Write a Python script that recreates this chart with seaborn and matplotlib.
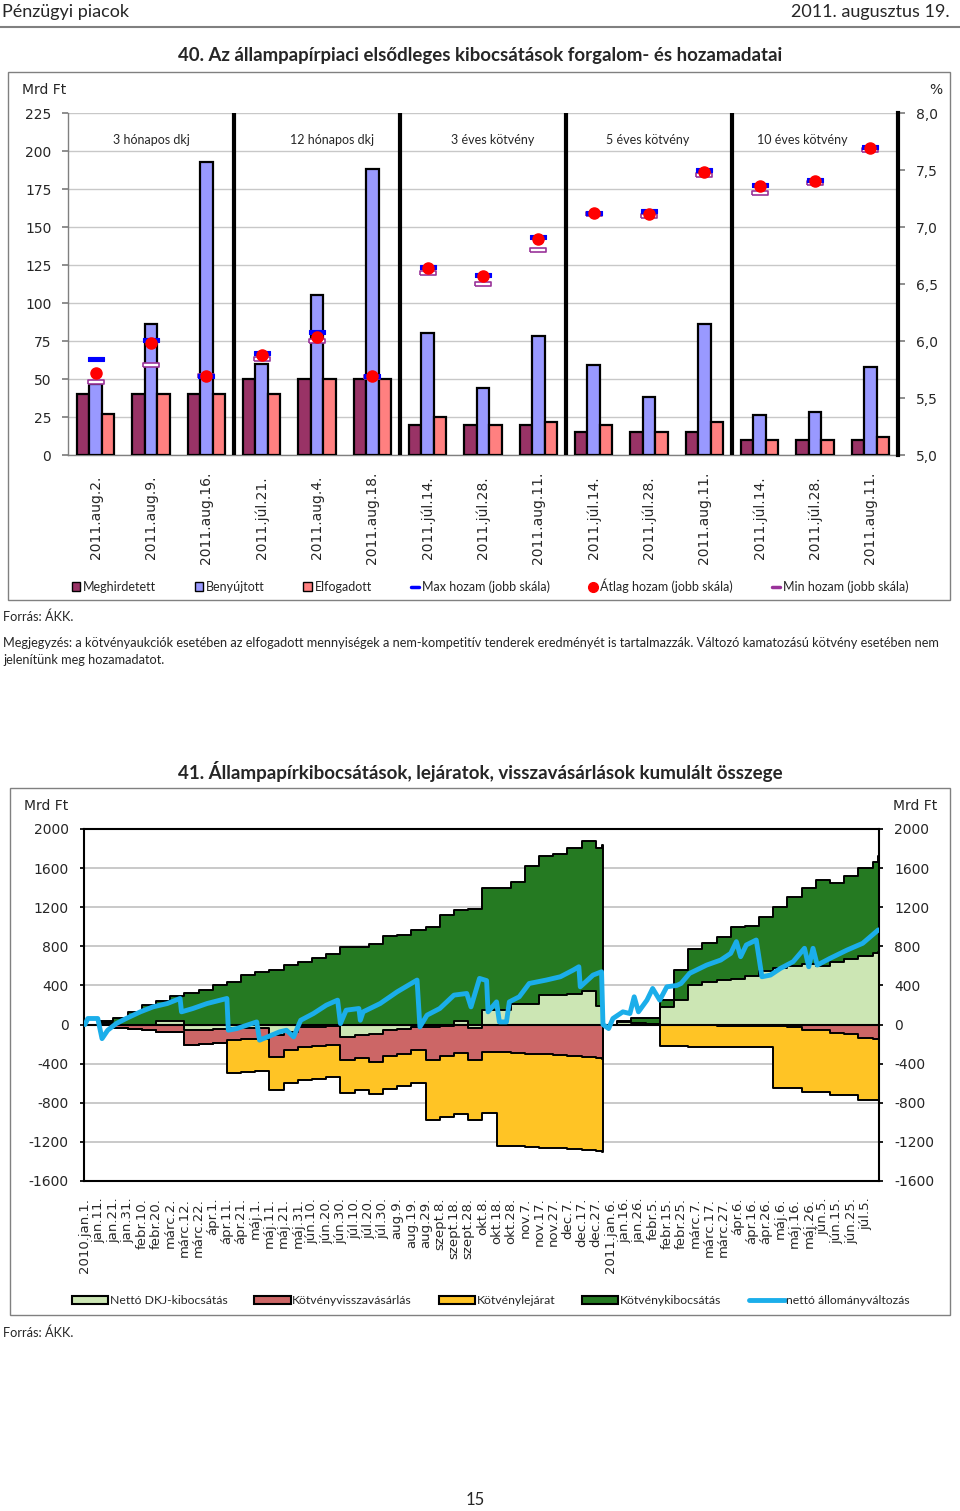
import numpy as np
import pandas as pd
import matplotlib
matplotlib.use('Agg')
import matplotlib.pyplot as plt
from matplotlib.patches import Rectangle, Patch
from matplotlib.lines import Line2D
import seaborn as sns

# --- 40. ábra: aukciós adatok ---
kategoriak = ["2011.aug.2.", "2011.aug.9.", "2011.aug.16.", "2011.júl.21.", "2011.aug.4.",
              "2011.aug.18.", "2011.júl.14.", "2011.júl.28.", "2011.aug.11.", "2011.júl.14.",
              "2011.júl.28.", "2011.aug.11.", "2011.júl.14.", "2011.júl.28.", "2011.aug.11."]
szakaszok = ["3 hónapos dkj", "12 hónapos dkj", "3 éves kötvény", "5 éves kötvény", "10 éves kötvény"]
meghirdetett = [40, 40, 40, 50, 50, 50, 20, 20, 20, 15, 15, 15, 10, 10, 10]
benyujtott = [47, 86, 193, 60, 105, 188, 80, 44, 78, 59, 38, 86, 26, 28.5, 58]
elfogadott = [27, 40, 40, 40, 50, 50, 25, 20, 22, 20, 15, 22, 10, 10, 12]
max_hozam = [5.84, 6.01, 5.69, 5.895, 6.075, 5.69, 6.645, 6.58, 6.915, 7.12, 7.14, 7.50, 7.37, 7.41, 7.70]
atlag_hozam = [5.72, 5.98, 5.69, 5.88, 6.035, 5.69, 6.64, 6.57, 6.895, 7.12, 7.117, 7.482, 7.357, 7.40, 7.69]
min_hozam = [5.64, 5.79, 5.69, 5.845, 6.0, 5.687, 6.596, 6.50, 6.80, 7.115, 7.094, 7.46, 7.298, 7.39, 7.675]
bal_cimkek1 = ["0", "25", "50", "75", "100", "125", "150", "175", "200", "225"]
jobb_cimkek1 = ["5,0", "5,5", "6,0", "6,5", "7,0", "7,5", "8,0"]

# --- 41. ábra: kumulált összegek (napok 2010.jan.1-től) ---
napok = [0, 10, 20, 30, 40, 50, 60, 70, 80, 90, 100, 110, 120, 130, 140, 150, 160, 170, 180,
         190, 200, 210, 220, 230, 240, 250, 260, 270, 280, 290, 300, 310, 320, 330, 340, 350,
         360, 364,
         365, 375, 385, 395, 405, 415, 425, 435, 445, 455, 465, 475, 485, 495, 505, 515, 525,
         535, 545, 555, 559]
netto_dkj = [0, 20, 0, 0, 0, 40, 40, -60, -55, -50, -40, -40, -40, -110, -80, -20, -20, -15, -130,
             -110, -100, -60, -50, -30, -30, -15, 40, -40, 147, 147, 215, 215, 301, 301, 310, 340,
             190, 180,
             0, 27, 20, 10, 180, 250, 400, 438, 460, 470, 500, 550, 580, 600, 620, 600, 643,
             670, 705, 730, 745]
kotveny_kib = [0, 20, 62, 130, 200, 200, 250, 320, 350, 400, 440, 510, 540, 557, 608, 643, 677, 721,
               790, 796, 824, 906, 916, 968, 1002, 1121, 1133, 1180, 1248, 1248, 1248, 1405, 1419,
               1446, 1495, 1534, 1615, 1659,
               0, 13, 42, 52, 70, 310, 370, 392, 440, 530, 510, 550, 627, 709, 775, 880, 803,
               850, 895, 930, 975]
visszavasarlas = [0, 0, -35, -41, -58, -75, -75, -152, -145, -135, -120, -110, -104, -220, -183, -209,
                  -202, -190, -236, -228, -280, -265, -247, -233, -329, -310, -290, -319, -280, -285,
                  -290, -300, -305, -310, -320, -330, -340, -349,
                  0, 0, 0, 0, 0, 0, -5, -8, -10, -10, -10, -12, -15, -20, -55, -60, -90,
                  -92, -140, -144, -144]
lejarat = [0, 0, 0, 0, 0, 0, 0, 0, 0, 0, -335, -335, -335, -335, -335, -335, -335, -335, -335,
           -335, -335, -335, -335, -335, -620, -620, -620, -620, -620, -955, -955, -955, -955,
           -955, -955, -955, -955, -955,
           0, 0, 0, 0, -222, -222, -222, -222, -222, -222, -222, -222, -630, -630, -630, -630,
           -630, -630, -630, -630, -630]
allomany_nap = [0, 2, 9, 12, 16, 22, 29, 39, 48, 58, 67, 68, 76, 86, 100, 101, 107, 121, 123, 128,
                137, 142, 147, 152, 161, 170, 178, 180, 184, 193, 194, 196, 208, 220, 234, 236, 241,
                250, 260, 269, 272, 278, 283, 284, 290, 292, 297, 299, 306, 313, 325, 335, 344,
                348, 349, 358, 364,
                365, 369, 372, 379, 384, 387, 390, 396, 400, 405, 410, 417, 420, 426, 438, 448,
                455, 459, 462, 466, 473, 477, 483, 490, 499, 507, 510, 513, 516, 525, 537, 548, 559]
allomany = [0, 62, 62, -144, -58, 10, 62, 130, 181, 215, 267, 130, 164, 215, 267, -58, -41, 27, -160,
            -130, -75, -58, -126, 44, 113, 198, 250, 10, 147, 164, 44, 130, 215, 335, 455, -24, 96,
            164, 301, 318, 181, 472, 450, 130, 232, 27, 27, 232, 284, 420, 455, 489, 557,
            591, 386, 506, 540,
            0, -41, 62, 130, 113, 284, 130, 250, 369, 250, 386, 400, 420, 523, 608, 660,
            728, 848, 694, 814, 865, 489, 506, 574, 643, 780, 591, 780, 608, 677, 762, 831, 968]
datum_cimkek = ["2010.jan.1.", "jan.11.", "jan.21.", "jan.31.", "febr.10.", "febr.20.", "márc.2.",
                "márc.12.", "márc.22.", "ápr.1.", "ápr.11.", "ápr.21.", "máj.1.", "máj.11.",
                "máj.21.", "máj.31.", "jún.10.", "jún.20.", "jún.30.", "júl.10.", "júl.20.",
                "júl.30.", "aug.9.", "aug.19.", "aug.29.", "szept.8.", "szept.18.", "szept.28.",
                "okt.8.", "okt.18.", "okt.28.", "nov.7.", "nov.17.", "nov.27.", "dec.7.", "dec.17.",
                "dec.27.", "2011.jan.6.", "jan.16.", "jan.26.", "febr.5.", "febr.15.", "febr.25.",
                "márc.7.", "márc.17.", "márc.27.", "ápr.6.", "ápr.16.", "ápr.26.", "máj.6.",
                "máj.16.", "máj.26.", "jún.5.", "jún.15.", "jún.25.", "júl.5."]
cimkek2 = ["-1600", "-1200", "-800", "-400", "0", "400", "800", "1200", "1600", "2000"]

# szinek
C_MEGH, C_BENY, C_ELF = "#993366", "#9999FF", "#FF8080"
C_DKJ, C_VISSZA, C_LEJ, C_KIB, C_NETTO = "#CCE6B4", "#CC6666", "#FFC425", "#257A22", "#1BAEEA"
SZURKE = "#808080"

sns.set_theme(style="white")
plt.rcParams['font.family'] = ['DejaVu Sans']
SZOVEG = ['Lato', 'DejaVu Sans']

W, H = 960, 1511
fig = plt.figure(figsize=(W / 100, H / 100), dpi=100)


def fx(x):
    return x / W


def fy(y):
    return 1 - y / H


def ftext(x, y, s, **kw):
    kw.setdefault('family', SZOVEG)
    fig.text(fx(x), fy(y), s, **kw)


# fejléc
ftext(2, 12, "Pénzügyi piacok", fontsize=13, va='center', ha='left')
ftext(950, 12, "2011. augusztus 19.", fontsize=13, va='center', ha='right')
fig.add_artist(Line2D([0, 1], [fy(27), fy(27)], transform=fig.transFigure, color=SZURKE, lw=1.5))

# ================= 40. ábra =================
ftext(480, 55, "40. Az állampapírpiaci elsődleges kibocsátások forgalom- és hozamadatai",
      fontsize=13.4, fontweight='bold', ha='center', va='center')
fig.add_artist(Rectangle((fx(8), fy(600)), (950 - 8) / W, (600 - 72) / H, transform=fig.transFigure,
                         fill=False, edgecolor=SZURKE, lw=1))

ax1 = fig.add_axes([fx(68), fy(455), (898 - 68) / W, (455 - 113) / H])
df_bar = pd.DataFrame({
    'poz': np.tile(np.arange(len(kategoriak)), 3),
    'sorozat': np.repeat(['Meghirdetett', 'Benyújtott', 'Elfogadott'], len(kategoriak)),
    'ertek': meghirdetett + benyujtott + elfogadott,
})
sns.barplot(data=df_bar, x='poz', y='ertek', hue='sorozat', palette=[C_MEGH, C_BENY, C_ELF],
            width=0.67, gap=0, saturation=1, edgecolor='black', linewidth=1.6,
            errorbar=None, legend=False, ax=ax1, zorder=3)
ax1.set_xlim(-0.5, len(kategoriak) - 0.5)
ax1.set_ylim(0, 225)
ax1.set_yticks(np.arange(0, 226, 25))
ax1.set_yticklabels(bal_cimkek1)
ax1.yaxis.grid(True, color='#C8C8C8', lw=1)
ax1.set_axisbelow(True)
ax1.set_xlabel('')
ax1.set_ylabel('')
ax1.set_xticks(range(len(kategoriak)))
ax1.set_xticklabels(kategoriak, rotation=90, va='center', fontsize=10)
ax1.tick_params(axis='x', length=0, pad=45)
ax1.set_xticks([2.5, 5.5, 8.5, 11.5], minor=True)
ax1.tick_params(axis='x', which='minor', length=5, color=SZURKE, width=1)
ax1.tick_params(axis='y', length=4, color=SZURKE, pad=8, labelsize=10, left=True)
for s in ['top', 'right']:
    ax1.spines[s].set_visible(False)
for s in ['left', 'bottom']:
    ax1.spines[s].set_color(SZURKE)
    ax1.spines[s].set_linewidth(1)
for b in [2.5, 5.5, 8.5, 11.5]:
    ax1.axvline(b, color='black', lw=3, zorder=4)
szak_x = [1, 4.27, 7.18, 9.98, 12.77]
for sx, nev in zip(szak_x, szakaszok):
    ax1.text(sx, 207, nev, ha='center', va='center', fontsize=9, family=SZOVEG)

ax1r = ax1.twinx()
ax1r.set_ylim(5, 8)
ax1r.set_yticks(np.arange(5, 8.01, 0.5))
ax1r.set_yticklabels(jobb_cimkek1)
ax1r.tick_params(axis='y', length=5, color=SZURKE, pad=8, labelsize=10, right=True)
for s in ['top', 'left', 'bottom']:
    ax1r.spines[s].set_visible(False)
ax1r.spines['right'].set_color('black')
ax1r.spines['right'].set_linewidth(3)
ax1r.grid(False)
teglalap = [(-1, -0.27), (1, -0.27), (1, 0.27), (-1, 0.27), (-1, -0.27)]
xpoz = np.arange(len(kategoriak))
ax1r.plot(xpoz, min_hozam, ls='none', marker=teglalap, ms=12, mfc='white', mec='#993399', mew=1.2)
ax1r.plot(xpoz, max_hozam, ls='none', marker=teglalap, ms=12, mfc='#0000FF', mec='#0000FF', mew=0.8)
ax1r.plot(xpoz, atlag_hozam, ls='none', marker='o', ms=8, mfc='#FF0000', mec='#FF0000')

ftext(22, 90, "Mrd Ft", fontsize=10, va='center', ha='left', family=['DejaVu Sans'])
ftext(942, 90, "%", fontsize=10, va='center', ha='right', family=['DejaVu Sans'])

h1 = [Patch(facecolor=C_MEGH, edgecolor='black', lw=1),
      Patch(facecolor=C_BENY, edgecolor='black', lw=1),
      Patch(facecolor=C_ELF, edgecolor='black', lw=1),
      Line2D([], [], color='#0000FF', lw=2.5),
      Line2D([], [], color='#FF0000', ls='none', marker='o', ms=7),
      Line2D([], [], color='#993399', lw=2.5)]
l1 = ["Meghirdetett", "Benyújtott", "Elfogadott", "Max hozam (jobb skála)",
      "Átlag hozam (jobb skála)", "Min hozam (jobb skála)"]
fig.legend(h1, l1, loc='center', bbox_to_anchor=(fx(490), fy(586)), ncol=6, frameon=False,
           handlelength=0.7, handleheight=0.7, handletextpad=0.2, columnspacing=3.1,
           prop={'family': SZOVEG, 'size': 9})

ftext(3, 617, "Forrás: ÁKK.", fontsize=9.2, va='center')
ftext(3, 643, "Megjegyzés: a kötvényaukciók esetében az elfogadott mennyiségek a nem-kompetitív "
              "tenderek eredményét is tartalmazzák. Változó kamatozású kötvény esetében nem",
      fontsize=9.15, va='center')
ftext(3, 660, "jelenítünk meg hozamadatot.", fontsize=9.15, va='center')

# ================= 41. ábra =================
ftext(480, 771, "41. Állampapírkibocsátások, lejáratok, visszavásárlások kumulált összege",
      fontsize=13.5, fontweight='bold', ha='center', va='center')
fig.add_artist(Rectangle((fx(10), fy(1315)), (950 - 10) / W, (1315 - 788) / H,
                         transform=fig.transFigure, fill=False, edgecolor=SZURKE, lw=1))

ax2 = fig.add_axes([fx(84), fy(1181), (879 - 84) / W, (1181 - 829) / H])
d = np.array(napok)
dkj = np.array(netto_dkj)
dkj_poz = np.clip(dkj, 0, None)
dkj_neg = np.clip(dkj, None, 0)
kib_top = dkj_poz + np.array(kotveny_kib)
vissza_bot = dkj_neg + np.array(visszavasarlas)
lej_bot = vissza_bot + np.array(lejarat)

ax2.fill_between(d, dkj_poz, kib_top, step='post', color=C_KIB, lw=0, zorder=2)
ax2.fill_between(d, vissza_bot, lej_bot, step='post', color=C_LEJ, lw=0, zorder=2)
ax2.fill_between(d, dkj_neg, vissza_bot, step='post', color=C_VISSZA, lw=0, zorder=2)
ax2.fill_between(d, 0, dkj, step='post', color=C_DKJ, lw=0, zorder=2)
for vonal in [kib_top, dkj, vissza_bot, lej_bot]:
    ax2.step(d, vonal, where='post', color='black', lw=1.4, zorder=3)
ax2.axhline(0, color='black', lw=1.5, zorder=3)
sns.lineplot(x=allomany_nap, y=allomany, ax=ax2, color=C_NETTO, lw=3.5, sort=False,
             estimator=None, zorder=5)

ax2.set_xlim(-0.7, 559.5)
ax2.set_ylim(-1600, 2000)
ax2.set_yticks(np.arange(-1600, 2001, 400))
ax2.set_yticklabels(cimkek2)
ax2.yaxis.grid(True, color='#C0C0C0', lw=1.2)
ax2.set_axisbelow(True)
ax2.set_xticks(np.arange(0, 560, 10))
ax2.set_xticklabels(datum_cimkek, rotation=90, fontsize=9.5)
ax2.tick_params(axis='x', length=0, pad=12)
ax2.tick_params(axis='y', length=3, color='black', pad=8, labelsize=10, left=True)
for s in ax2.spines.values():
    s.set_color('black')
    s.set_linewidth(1.5)

ax2r = ax2.twinx()
ax2r.set_ylim(-1600, 2000)
ax2r.set_yticks(np.arange(-1600, 2001, 400))
ax2r.set_yticklabels(cimkek2)
ax2r.tick_params(axis='y', length=3, color='black', pad=8, labelsize=10, right=True)
ax2r.grid(False)
for s in ax2r.spines.values():
    s.set_visible(False)

ftext(24, 806, "Mrd Ft", fontsize=10, va='center', ha='left', family=['DejaVu Sans'])
ftext(893, 806, "Mrd Ft", fontsize=10, va='center', ha='left', family=['DejaVu Sans'])

h2 = [Patch(facecolor=C_DKJ, edgecolor='black', lw=1.5),
      Patch(facecolor=C_VISSZA, edgecolor='black', lw=1.5),
      Patch(facecolor=C_LEJ, edgecolor='black', lw=1.5),
      Patch(facecolor=C_KIB, edgecolor='black', lw=1.5),
      Line2D([], [], color=C_NETTO, lw=3.5)]
l2 = ["Nettó DKJ-kibocsátás", "Kötvényvisszavásárlás", "Kötvénylejárat", "Kötvénykibocsátás",
      "nettó állományváltozás"]
fig.legend(h2, l2, loc='center', bbox_to_anchor=(fx(491), fy(1301)), ncol=5, frameon=False,
           handlelength=2.95, handleheight=0.6, handletextpad=0.15, columnspacing=2.2,
           prop={'family': SZOVEG, 'size': 8.8})

ftext(3, 1333, "Forrás: ÁKK.", fontsize=9.2, va='center')
ftext(475, 1500, "15", fontsize=12, ha='center', va='center')

fig.savefig("out.png", dpi=100)
